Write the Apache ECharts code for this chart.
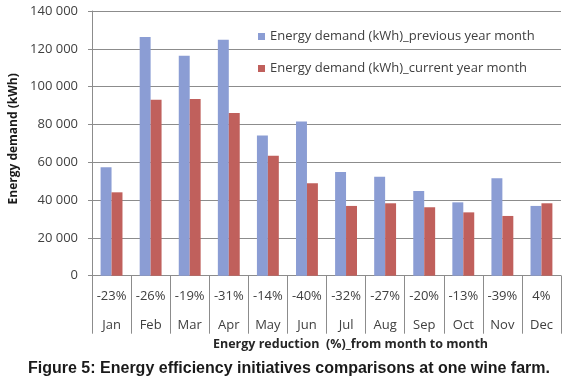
<!DOCTYPE html>
<html>
<head>
<meta charset="utf-8">
<script src="https://cdn.jsdelivr.net/npm/echarts@6/dist/echarts.min.js"></script>
<style>
html,body{margin:0;padding:0;background:#fff;}
#chart{width:578px;height:390px;}
</style>
</head>
<body>
<div id="chart"></div>
<script>
const months = ['Jan','Feb','Mar','Apr','May','Jun','Jul','Aug','Sep','Oct','Nov','Dec'];
const reductions = ['-23%','-26%','-19%','-31%','-14%','-40%','-32%','-27%','-20%','-13%','-39%','4%'];
const previousYear = [57400, 126200, 116300, 124800, 74100, 81500, 54900, 52300, 44800, 38800, 51500, 36900];
const currentYear = [44100, 93000, 93500, 86100, 63500, 48900, 36900, 38300, 36200, 33500, 31600, 38300];
const yTicks = [0, 20000, 40000, 60000, 80000, 100000, 120000, 140000];
const seriesNames = ['Energy demand (kWh)_previous year month', 'Energy demand (kWh)_current year month'];

const chart = echarts.init(document.getElementById('chart'), null, {renderer:'canvas'});
const font = '"Open Sans", Lato, sans-serif';
chart.setOption({
  animation: false,
  backgroundColor: '#fff',
  title: {
    text: 'Figure 5: Energy efficiency initiatives comparisons at one wine farm.',
    left: 'center', top: 356,
    textStyle: {fontFamily: '"Liberation Sans", Arial, sans-serif', fontWeight: 'bold', fontSize: 16, color: '#1a1a1a'}
  },
  grid: {left: 89, right: 17, top: 11, bottom: 114.3},
  legend: {
    orient: 'vertical', left: 253, top: 25,
    itemWidth: 7, itemHeight: 7, itemGap: 19,
    icon: 'rect',
    textStyle: {fontFamily: font, fontSize: 13, color: '#404040'},
    data: seriesNames
  },
  xAxis: {
    type: 'category',
    data: months,
    name: 'Energy reduction  (%)_from month to month',
    nameLocation: 'middle', nameGap: 62, nameMoveOverlap: false,
    nameTextStyle: {fontFamily: font, fontWeight: 'bold', fontSize: 12.5, color: '#262626', padding: [0, 0, 0, 48]},
    axisLine: {lineStyle: {color: '#8c8c8c'}},
    axisTick: {show: true, alignWithLabel: false, length: 58, interval: 0, lineStyle: {color: '#8c8c8c'}},
    axisLabel: {
      interval: 0, margin: 6,
      fontFamily: font, fontSize: 13, color: '#404040', lineHeight: 29,
      formatter: function(v, i){ return reductions[i] + '\n' + v; }
    }
  },
  yAxis: {
    type: 'value', min: 0, max: yTicks[yTicks.length-1], interval: yTicks[1]-yTicks[0],
    name: 'Energy demand (kWh)',
    nameLocation: 'middle', nameGap: 72, nameRotate: 90, nameMoveOverlap: false,
    nameTextStyle: {fontFamily: font, fontWeight: 'bold', fontSize: 12, color: '#1a1a1a', padding: [0, 0, 0, 9]},
    axisLine: {show: true, lineStyle: {color: '#8c8c8c'}},
    axisTick: {show: true, length: 4, lineStyle: {color: '#8c8c8c'}},
    splitLine: {lineStyle: {color: '#8c8c8c'}},
    axisLabel: {
      margin: 14, fontFamily: font, fontSize: 13, color: '#404040',
      formatter: function(v){ return v === 0 ? '0' : String(v).replace(/\B(?=(\d{3})+(?!\d))/g, ' '); }
    }
  },
  series: [
    {name: seriesNames[0], type: 'bar', data: previousYear, barGap: '0%', barCategoryGap: '44%', itemStyle: {color: '#8b9dd4'}},
    {name: seriesNames[1], type: 'bar', data: currentYear, itemStyle: {color: '#c0605c'}}
  ]
});
</script>
</body>
</html>
